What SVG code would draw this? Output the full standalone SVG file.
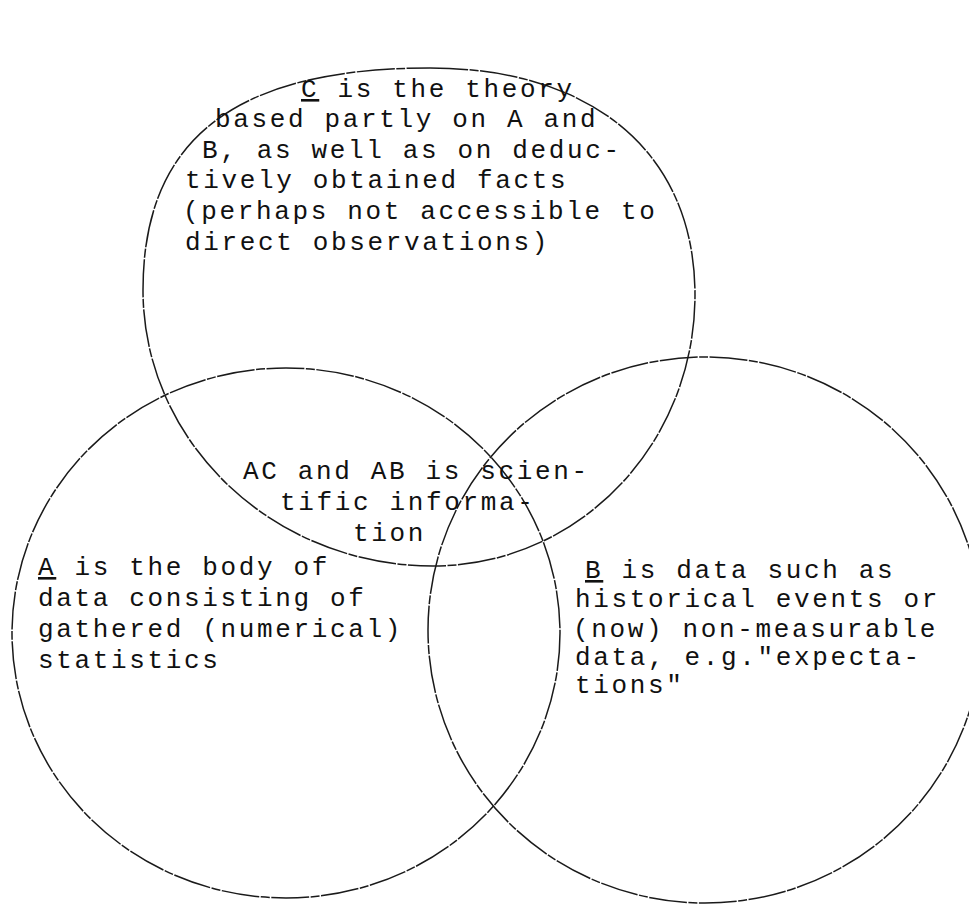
<svg xmlns="http://www.w3.org/2000/svg" width="969" height="917" viewBox="0 0 969 917">
<style>
.ring{fill:none;stroke:#1a1a1a;stroke-width:1.5;stroke-dasharray:38 1.5 9 1.5}
.t{font-family:"Liberation Mono","DejaVu Sans Mono",monospace;font-size:26px;letter-spacing:2.65px;fill:#111}
.u{text-decoration:underline}
</style>
<rect width="969" height="917" fill="#ffffff"/>
<g id="connectors">
<path id="circleC" class="ring" d="M430,68 C594,68 695,154 695,295 C695,445 578,566 433,566 C273,566 143,442 143,290 C143,139 235,68 430,68 Z"/>
<ellipse id="circleA" class="ring" cx="286" cy="633" rx="274" ry="265"/>
<ellipse id="circleB" class="ring" cx="705" cy="630" rx="277" ry="273"/>
</g>
<g id="nodeC">
<text class="t" x="301" y="97"><tspan class="u">C</tspan> is the theory</text>
<text class="t" x="215" y="127">based partly on A and</text>
<text class="t" x="202" y="158">B, as well as on deduc-</text>
<text class="t" x="185" y="188">tively obtained facts</text>
<text class="t" x="183" y="219">(perhaps not accessible to</text>
<text class="t" x="185" y="250">direct observations)</text>
</g>
<g id="nodeAC">
<text class="t" x="243" y="479">AC and AB is scien-</text>
<text class="t" x="280" y="510">tific informa-</text>
<text class="t" x="353" y="541">tion</text>
</g>
<g id="nodeA">
<text class="t" x="38" y="575"><tspan class="u">A</tspan> is the body of</text>
<text class="t" x="38" y="606">data consisting of</text>
<text class="t" x="38" y="637">gathered (numerical)</text>
<text class="t" x="38" y="668">statistics</text>
</g>
<g id="nodeB">
<text class="t" x="585" y="578"><tspan class="u">B</tspan> is data such as</text>
<text class="t" x="575" y="607">historical events or</text>
<text class="t" x="573" y="637">(now) non-measurable</text>
<text class="t" x="575" y="665">data, e.g."expecta-</text>
<text class="t" x="575" y="693">tions"</text>
</g>
</svg>
